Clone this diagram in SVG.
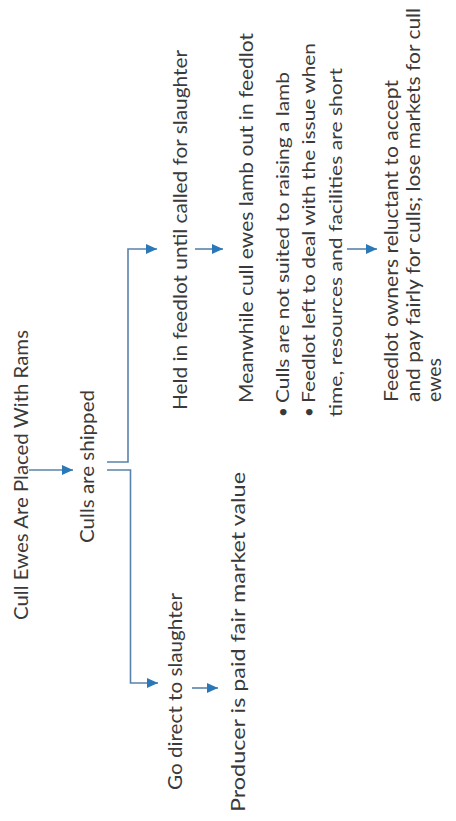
<svg xmlns="http://www.w3.org/2000/svg" width="456" height="821" viewBox="0 0 456 821">
<defs>
<marker id="ah" markerWidth="11" markerHeight="10" refX="11" refY="5" orient="auto" markerUnits="userSpaceOnUse"><path d="M0,0 L11,5 L0,10 z" fill="#2B78B8"/></marker>
<style>
text{font-family:Lato,"Open Sans","Liberation Sans",sans-serif;fill:#3a3a3a;font-size:19px}
.s{font-size:17px}
.c{fill:none;stroke:#5A82AD;stroke-width:1.6}
.a{marker-end:url(#ah)}
</style>
</defs>
<rect width="456" height="821" fill="#fff"/>
<g id="connectors">
<path class="c a" d="M29,470 H73"/>
<path class="c a" d="M107,462 H128 V249 H157"/>
<path class="c a" d="M107,470 H130.5 V683 H158"/>
<path class="c a" d="M195,249 H223"/>
<path class="c a" d="M192,688 H218"/>
<path class="c a" d="M347,249 H377"/>
</g>
<g id="n1"><text transform="translate(28,620) rotate(-90)" textLength="290" lengthAdjust="spacingAndGlyphs">Cull Ewes Are Placed With Rams</text></g>
<g id="n2"><text transform="translate(94,543) rotate(-90)" textLength="153" lengthAdjust="spacingAndGlyphs">Culls are shipped</text></g>
<g id="n3"><text transform="translate(182,790) rotate(-90)" textLength="197" lengthAdjust="spacingAndGlyphs">Go direct to slaughter</text></g>
<g id="n4"><text transform="translate(245,812) rotate(-90)" textLength="340" lengthAdjust="spacingAndGlyphs">Producer is paid fair market value</text></g>
<g id="n5"><text transform="translate(187,410) rotate(-90)" textLength="360" lengthAdjust="spacingAndGlyphs">Held in feedlot until called for slaughter</text></g>
<g id="n6">
<text transform="translate(253,403) rotate(-90)" textLength="370" lengthAdjust="spacingAndGlyphs">Meanwhile cull ewes lamb out in feedlot</text>
<text class="s" transform="translate(289,417) rotate(-90)">•</text>
<text class="s" transform="translate(289,403) rotate(-90)" textLength="331" lengthAdjust="spacingAndGlyphs">Culls are not suited to raising a lamb</text>
<text class="s" transform="translate(315,417) rotate(-90)">•</text>
<text class="s" transform="translate(315,403) rotate(-90)" textLength="360" lengthAdjust="spacingAndGlyphs">Feedlot left to deal with the issue when</text>
<text class="s" transform="translate(342,417) rotate(-90)" textLength="349" lengthAdjust="spacingAndGlyphs">time, resources and facilities are short</text>
</g>
<g id="n7">
<text transform="translate(398,402) rotate(-90)" textLength="322" lengthAdjust="spacingAndGlyphs">Feedlot owners reluctant to accept</text>
<text transform="translate(420,402) rotate(-90)" textLength="394" lengthAdjust="spacingAndGlyphs">and pay fairly for culls; lose markets for cull</text>
<text transform="translate(441,402) rotate(-90)" textLength="44" lengthAdjust="spacingAndGlyphs">ewes</text>
</g>
</svg>
